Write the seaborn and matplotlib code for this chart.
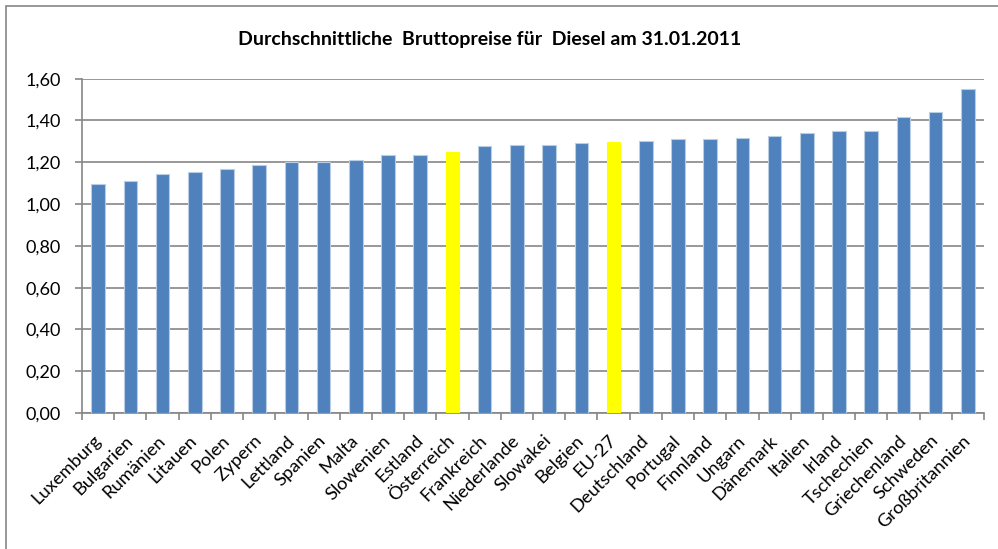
import matplotlib
matplotlib.use("Agg")
import matplotlib.pyplot as plt
import seaborn as sns
import pandas as pd
from matplotlib.patches import Rectangle
from matplotlib.ticker import FixedLocator

# Daten: Durchschnittliche Bruttopreise Diesel (EUR/l), 31.01.2011
laender = ["Luxemburg", "Bulgarien", "Rumänien", "Litauen", "Polen", "Zypern",
           "Lettland", "Spanien", "Malta", "Slowenien", "Estland", "Österreich",
           "Frankreich", "Niederlande", "Slowakei", "Belgien", "EU-27",
           "Deutschland", "Portugal", "Finnland", "Ungarn", "Dänemark",
           "Italien", "Irland", "Tschechien", "Griechenland", "Schweden",
           "Großbritannien"]
preise = [1.094, 1.110, 1.144, 1.152, 1.169, 1.186, 1.203, 1.203, 1.211, 1.235,
          1.235, 1.251, 1.277, 1.285, 1.285, 1.293, 1.299, 1.302, 1.310, 1.310,
          1.318, 1.326, 1.342, 1.352, 1.352, 1.418, 1.442, 1.549]
hervorgehoben = ["Österreich", "EU-27"]
y_ticks = [0.0, 0.2, 0.4, 0.6, 0.8, 1.0, 1.2, 1.4, 1.6]

df = pd.DataFrame({"land": laender, "preis": preise})
farben = {l: ("#FFFF00" if l in hervorgehoben else "#4F81BD") for l in laender}

sns.set_theme(style="white")
plt.rcParams["font.family"] = ["Lato", "DejaVu Sans"]
grau = "#868686"

fig = plt.figure(figsize=(9.98, 5.49), dpi=100)
ax = fig.add_axes([82 / 998, 1 - 413 / 549, (984 - 82) / 998, (413 - 78.7) / 549])

sns.barplot(data=df, x="land", y="preis", hue="land", palette=farben, saturation=1,
            legend=False, width=0.42, ax=ax, linewidth=0.8, zorder=3)
# heller Rand nur um die blauen Balken
for p in ax.patches:
    if p.get_facecolor()[2] > 0.5:
        p.set_edgecolor("#B9CDE5")
    else:
        p.set_edgecolor(p.get_facecolor())

ax.set_xlim(-0.5, len(laender) - 0.5)
ax.set_ylim(0, 1.6)
ax.set_yticks(y_ticks)
ax.set_yticklabels([f"{v:.2f}".replace(".", ",") for v in y_ticks], fontsize=13, color="#000000")
ax.yaxis.grid(True, color=grau, linewidth=1.2, zorder=0)
ax.set_axisbelow(True)

ax.set_xticks(range(len(laender)))
ax.set_xticklabels(laender, rotation=45, ha="right", va="center", rotation_mode="anchor",
                   fontsize=13.2, color="#000000")
ax.xaxis.set_minor_locator(FixedLocator([i - 0.5 for i in range(len(laender) + 1)]))
ax.tick_params(axis="x", which="major", length=0, pad=18)
ax.tick_params(axis="x", which="minor", length=5, color=grau, width=1.2, bottom=True)
ax.tick_params(axis="y", length=5, color=grau, width=1.2, pad=10, left=True)

ax.set_xlabel("")
ax.set_ylabel("")
for s in ["top", "right"]:
    ax.spines[s].set_visible(False)
for s in ["left", "bottom"]:
    ax.spines[s].set_color(grau)
    ax.spines[s].set_linewidth(1.2)

fig.text(490 / 998, 1 - 40 / 549, "Durchschnittliche  Bruttopreise für  Diesel am 31.01.2011",
         ha="center", va="center", fontsize=14, fontweight="bold", color="#000000")

fig.add_artist(Rectangle((6 / 998, -0.1), 1.2, 1 - 6 / 549 + 0.1, transform=fig.transFigure,
                         fill=False, edgecolor=grau, linewidth=1.2))

fig.savefig("out.png", dpi=100)
